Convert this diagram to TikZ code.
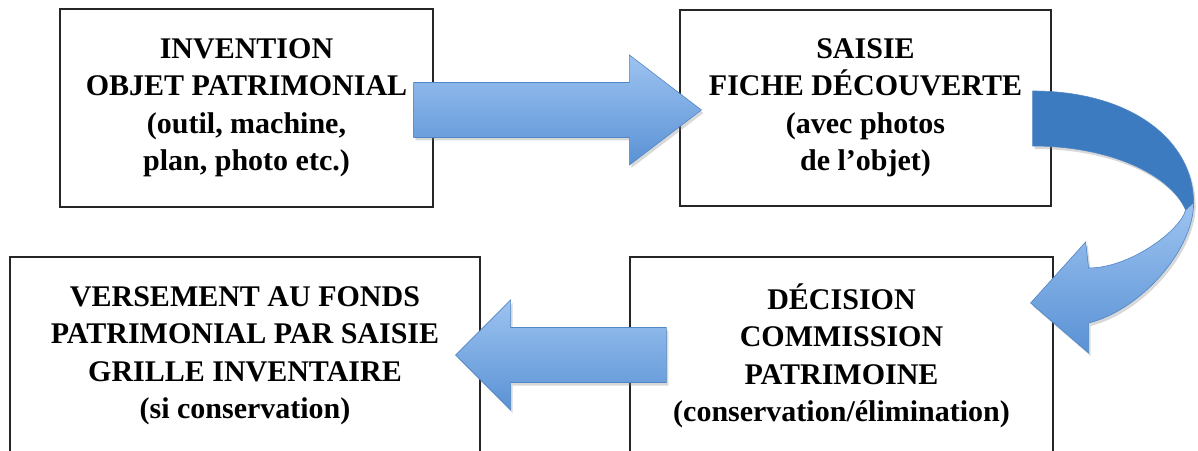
\documentclass[tikz,border=0pt]{standalone}
\usepackage{fontspec}
\setmainfont{Liberation Serif}
\usetikzlibrary{calc,shadows}

\definecolor{arrowlight}{HTML}{9DC3F0}
\definecolor{arrowmid}{HTML}{5A92D5}
\definecolor{arrowdark}{HTML}{3C7BBF}
\definecolor{arrowedge}{HTML}{4F86C6}

\tikzstyle{box}=[draw=black!85,line width=1.2pt,fill=white,align=center,inner sep=0pt,font=\fontsize{30}{37.5}\selectfont\bfseries]
\tikzstyle{arrowbase}=[draw=arrowedge,line width=0.6pt,drop shadow={opacity=0.3,shadow xshift=2pt,shadow yshift=-3pt}]
\tikzstyle{bigarrow}=[arrowbase,top color=arrowlight,bottom color=arrowmid]
\tikzstyle{ribbon}=[arrowbase,fill=arrowdark]

% straight block arrow: start, tip, head offset
\newcommand{\flatarrow}[3]{%
  \path[bigarrow] ($(#1)+(0,27.5)$) -- ($(#2)+(#3,27.5)$) -- ($(#2)+(#3,55)$) -- (#2)
    -- ($(#2)+(#3,-55)$) -- ($(#2)+(#3,-27.5)$) -- ($(#1)+(0,-27.5)$) -- cycle;}

\begin{document}
\begin{tikzpicture}[x=1pt,y=1pt]
    \fill[white] (0,0) rectangle (1198,450);
    \useasboundingbox (0,0) rectangle (1198,450);
    % First the four steps
    \node[box,minimum width=373pt,minimum height=198pt] (inv) at (246.5,342)
        {INVENTION\\OBJET PATRIMONIAL\\(outil, machine,\\plan, photo etc.)};
    \node[box,minimum width=371pt,minimum height=196pt] (fiche) at (865.5,342)
        {SAISIE\\FICHE DÉCOUVERTE\\(avec photos\\de l’objet)};
    \node[box,minimum width=423pt,minimum height=198pt] (decision) at (841.5,94)
        {DÉCISION\\COMMISSION\\PATRIMOINE\\(conservation/élimination)};
    \node[box,minimum width=470pt,minimum height=198pt] (versement) at (245,94)
        {VERSEMENT AU FONDS\\PATRIMONIAL PAR SAISIE\\GRILLE INVENTAIRE\\(si conservation)};
    % Straight arrows between the steps
    \coordinate (a1s) at ($(inv.east)+(-20,-2)$);
    \coordinate (a1t) at ($(fiche.west)+(22,-2)$);
    \flatarrow{a1s}{a1t}{-72}
    \coordinate (a3s) at ($(decision.west)+(37,1)$);
    \coordinate (a3t) at ($(versement.east)+(-25,1)$);
    \flatarrow{a3s}{a3t}{55}
    % Curved arrow from the second step down to the third
    \begin{scope}[shift={(fiche.east)}]
        \path[ribbon] (-19,17) .. controls (79,17) and (142,-32) .. (142,-95)
            -- (134,-102) .. controls (119,-67) and (59,-38) .. (-19,-38) -- cycle;
        \path[bigarrow] (142,-95) .. controls (142,-142) and (89,-202) .. (37,-215)
            -- (37,-245) -- (-21,-195) -- (34,-134) -- (37,-160)
            .. controls (79,-160) and (129,-122) .. (134,-102) -- cycle;
    \end{scope}
\end{tikzpicture}
\end{document}
